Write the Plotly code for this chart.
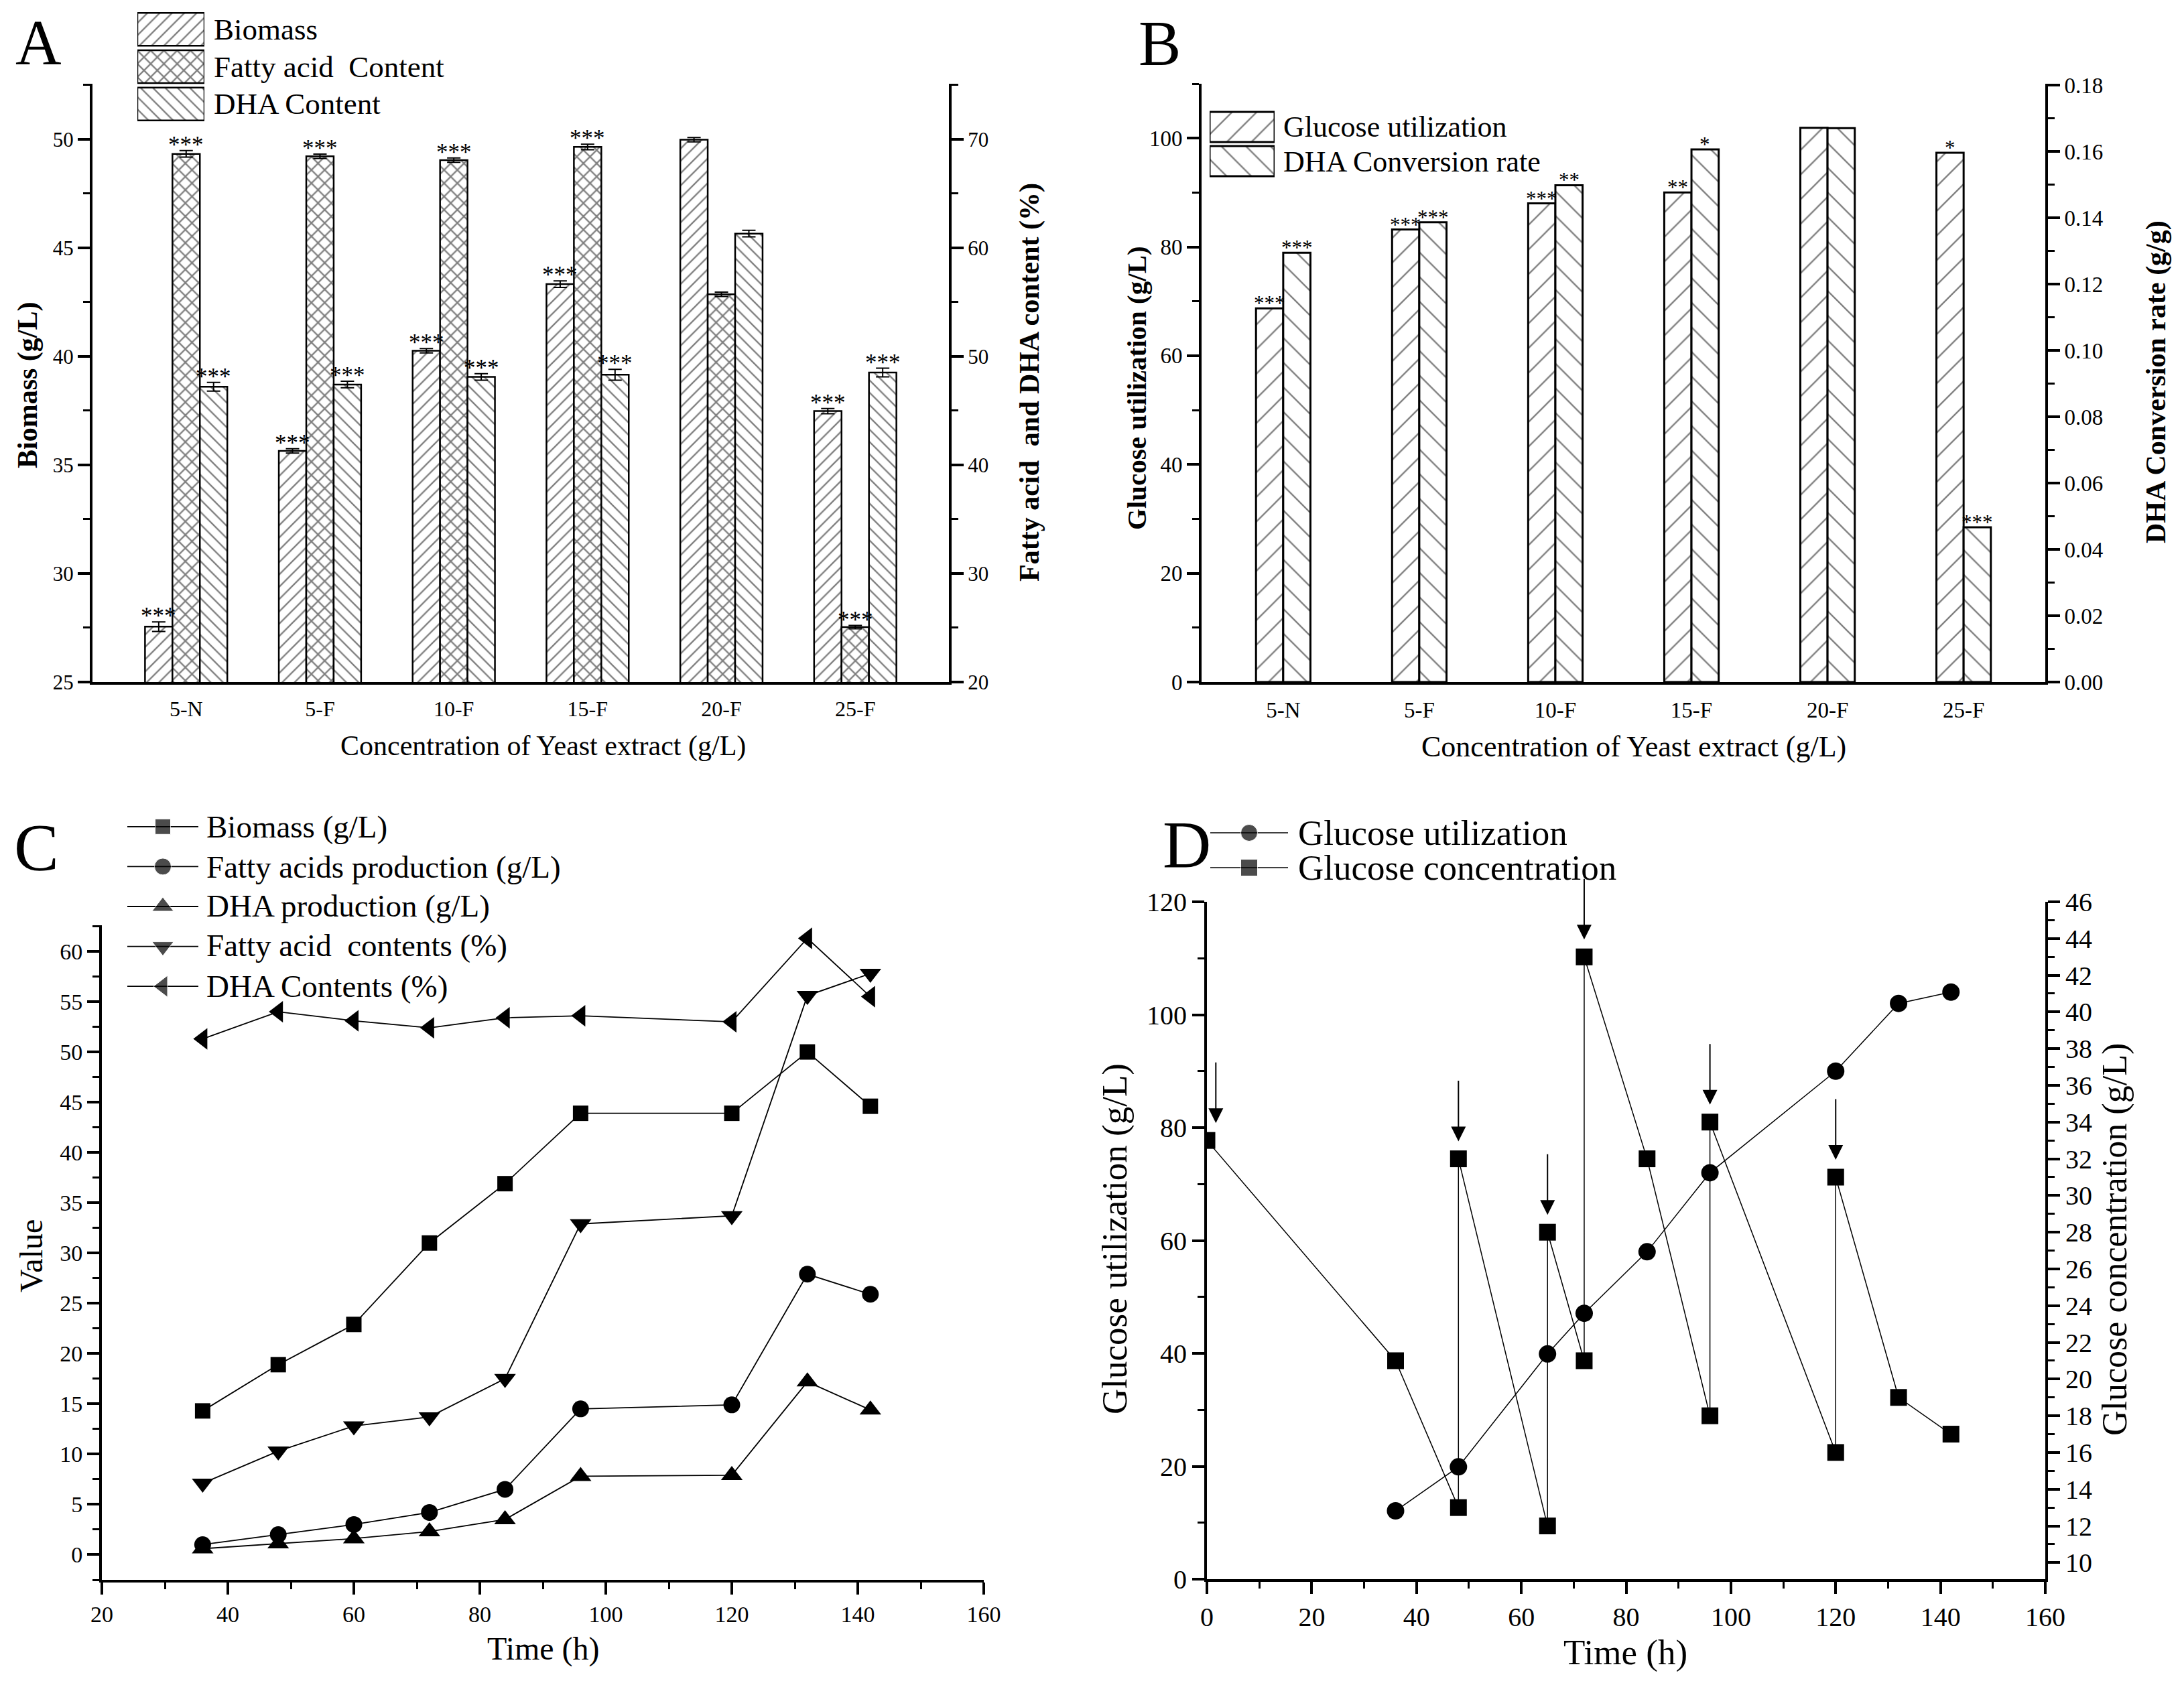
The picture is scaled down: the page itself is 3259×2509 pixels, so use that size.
import plotly.graph_objects as go

# target canvas; the page body adds an 8 px margin around the figure
W0, H0 = 3259, 2509
PAD = 8
W, H = W0 - 2 * PAD, H0 - 2 * PAD
FONT = "Liberation Serif, Times New Roman, serif"


def fx(p):
    return (p - PAD) / W


def fy(p):
    return 1 - (p - PAD) / H


def clamp(v):
    return min(1.0, max(0.0, v))


# ---------------- data ----------------
categories = ["5-N", "5-F", "10-F", "15-F", "20-F", "25-F"]

names_A = ["Biomass", "Fatty acid\u00a0 Content", "DHA Content"]
biomass = [27.55, 35.65, 40.26, 43.33, 49.98, 37.48]
biomass_err = [0.22, 0.10, 0.10, 0.15, 0.10, 0.12]
fa_content = [68.64, 68.42, 68.06, 69.28, 55.71, 25.06]
fa_err = [0.30, 0.20, 0.20, 0.25, 0.20, 0.15]
dha_content = [47.2, 47.4, 48.1, 48.3, 61.3, 48.5]
dha_err = [0.40, 0.30, 0.30, 0.50, 0.30, 0.40]
sig_biomass = ["***", "***", "***", "***", "", "***"]
sig_fa = ["***", "***", "***", "***", "", "***"]
sig_dha = ["***", "***", "***", "***", "", "***"]

names_B = ["Glucose utilization", "DHA Conversion rate"]
glucose_util_B = [68.7, 83.2, 88.0, 90.0, 101.9, 97.3]
dha_conv_B = [0.1295, 0.1387, 0.1499, 0.1607, 0.1671, 0.0467]
sig_glu = ["***", "***", "***", "**", "", "*"]
sig_conv = ["***", "***", "**", "*", "", "***"]

names_C = ["Biomass (g/L)", "Fatty acids production (g/L)", "DHA production (g/L)",
           "Fatty acid\u00a0 contents (%)", "DHA Contents (%)"]
time_C = [36, 48, 60, 72, 84, 96, 120, 132, 142]
biomass_C = [14.3, 18.9, 22.9, 31.0, 36.9, 43.9, 43.9, 50.0, 44.6]
fa_prod_C = [1.0, 2.0, 3.0, 4.2, 6.5, 14.5, 14.9, 27.9, 25.9]
dha_prod_C = [0.6, 1.1, 1.6, 2.3, 3.5, 7.8, 7.9, 17.2, 14.4]
fa_cont_C = [7.1, 10.3, 12.8, 13.7, 17.5, 32.9, 33.7, 55.6, 57.8]
dha_cont_C = [51.3, 54.0, 53.1, 52.4, 53.4, 53.6, 53.0, 61.3, 55.5]

names_D = ["Glucose utilization", "Glucose concentration"]
time_D_util = [36, 48, 65, 72, 84, 96, 120, 132, 142]
glucose_util_D = [12.1, 19.9, 39.9, 47.1, 58.0, 72.0, 90.0, 102.0, 104.0]
time_D_conc = [0, 36, 48, 48, 65, 65, 72, 72, 84, 96, 96, 120, 120, 132, 142]
glucose_conc_D = [33, 21, 13, 32, 12, 28, 21, 43, 32, 18, 34, 16, 31, 19, 17]
feed_times = [0, 48, 65, 72, 96, 120]

STAR_A = 35
STAR_B = 31
fig = go.Figure()

# ---------------- Panel A ----------------
bw_A = 0.205
offs_A = [-1.5 * bw_A, -0.5 * bw_A, 0.5 * bw_A]
pat_A = ["/", "x", "\\"]
psize_A = [13, 14, 13]
psol_A = [0.18, 0.3, 0.18]
seriesA = [
    (biomass, biomass_err, sig_biomass, "y"),
    (fa_content, fa_err, sig_fa, "y2"),
    (dha_content, dha_err, sig_dha, "y2"),
]
for k, ((vals, errs, sig, yax), off) in enumerate(zip(seriesA, offs_A)):
    fig.add_trace(go.Bar(
        x=categories, y=vals, name=names_A[k], xaxis="x", yaxis=yax,
        width=bw_A, offset=off,
        marker=dict(color="white", line=dict(color="black", width=2.5),
                    pattern=dict(shape=pat_A[k], fgcolor="black", bgcolor="white",
                                 size=psize_A[k], solidity=psol_A[k])),
        error_y=dict(type="data", array=errs, color="black", thickness=2, width=10),
    ))
    for i, (v, e, s) in enumerate(zip(vals, errs, sig)):
        if s:
            fig.add_annotation(x=i + off + bw_A / 2, y=v + e, xref="x", yref=yax, text=s,
                               showarrow=False, yanchor="bottom", yshift=-13,
                               font=dict(size=STAR_A, family=FONT, color="black"))

# ---------------- Panel B ----------------
bw_B = 0.2
offs_B = [-bw_B, 0.0]
pat_B = ["/", "\\"]
seriesB = [(glucose_util_B, sig_glu, "y3"), (dha_conv_B, sig_conv, "y4")]
for k, ((vals, sig, yax), off) in enumerate(zip(seriesB, offs_B)):
    fig.add_trace(go.Bar(
        x=categories, y=vals, name=names_B[k], xaxis="x2", yaxis=yax,
        width=bw_B, offset=off,
        marker=dict(color="white", line=dict(color="black", width=3),
                    pattern=dict(shape=pat_B[k], fgcolor="black", bgcolor="white",
                                 size=26, solidity=0.09)),
    ))
    for i, (v, s) in enumerate(zip(vals, sig)):
        if s:
            fig.add_annotation(x=i + off + bw_B / 2, y=v, xref="x2", yref=yax, text=s,
                               showarrow=False, yanchor="bottom", yshift=-12,
                               font=dict(size=STAR_B, family=FONT, color="black"))

# ---------------- Panel C ----------------
sym_C = ["square", "circle", "triangle-up", "triangle-down", "triangle-left"]
size_C = [23, 25, 28, 28, 28]
vals_C = [biomass_C, fa_prod_C, dha_prod_C, fa_cont_C, dha_cont_C]
for k, vals in enumerate(vals_C):
    fig.add_trace(go.Scatter(
        x=time_C, y=vals, name=names_C[k], mode="lines+markers", xaxis="x3", yaxis="y5",
        line=dict(color="black", width=1.8),
        marker=dict(symbol=sym_C[k], size=size_C[k], color="black"),
    ))

# ---------------- Panel D ----------------
fig.add_trace(go.Scatter(
    x=time_D_util, y=glucose_util_D, name=names_D[0], mode="lines+markers",
    xaxis="x4", yaxis="y6", line=dict(color="black", width=1.5),
    marker=dict(symbol="circle", size=26, color="black"),
))
fig.add_trace(go.Scatter(
    x=time_D_conc, y=glucose_conc_D, name=names_D[1], mode="lines+markers",
    xaxis="x4", yaxis="y7", line=dict(color="black", width=1.5),
    marker=dict(symbol="square", size=25, color="black"),
))
for t in feed_times:
    top = max(v for tt, v in zip(time_D_conc, glucose_conc_D) if tt == t)
    fig.add_annotation(x=max(t, 1.7), y=top, xref="x4", yref="y7", showarrow=True,
                       ax=0, ay=-118, standoff=26, arrowhead=2, arrowsize=2.2,
                       arrowwidth=2, arrowcolor="black", text="")

# ---------------- custom legends ----------------
fig.add_trace(go.Bar(
    y=list(range(len(names_A))), x=[1] * len(names_A), orientation="h", width=0.88,
    xaxis="x5", yaxis="y8", hoverinfo="skip",
    marker=dict(color="white", line=dict(color="black", width=2.5),
                pattern=dict(shape=pat_A, fgcolor="black", bgcolor="white",
                             size=psize_A, solidity=psol_A)),
))
legA_top, legA_bot = 16, 183
rowh = (legA_bot - legA_top) / len(names_A)
for j, name in enumerate(names_A):
    fig.add_annotation(x=fx(317), y=fy(legA_top + (j + 0.5) * rowh), xref="paper", yref="paper",
                       text=name, showarrow=False, xanchor="left", yanchor="middle",
                       font=dict(size=45, family=FONT, color="black"))

fig.add_trace(go.Bar(
    y=list(range(len(names_B))), x=[1] * len(names_B), orientation="h", width=0.88,
    xaxis="x6", yaxis="y9", hoverinfo="skip",
    marker=dict(color="white", line=dict(color="black", width=3),
                pattern=dict(shape=pat_B, fgcolor="black", bgcolor="white", size=26, solidity=0.09)),
))
rowsB = [189, 241]
for name, r in zip(names_B, rowsB):
    fig.add_annotation(x=fx(1913), y=fy(r), xref="paper", yref="paper", text=name, showarrow=False,
                       xanchor="left", yanchor="middle", font=dict(size=44, family=FONT, color="black"))

rowsC = [1234, 1294, 1352, 1411, 1472]
for k, name in enumerate(names_C):
    fig.add_trace(go.Scatter(
        x=[0, 0.5, 1], y=[k, k, k], mode="lines+markers", xaxis="x7", yaxis="y10",
        line=dict(color="black", width=1.8), hoverinfo="skip",
        marker=dict(symbol=sym_C[k], size=[0, size_C[k], 0], color="black"),
    ))
    fig.add_annotation(x=fx(306), y=fy(rowsC[k]), xref="paper", yref="paper", text=name,
                       showarrow=False, xanchor="left", yanchor="middle",
                       font=dict(size=47, family=FONT, color="black"))

rowsD = [1243, 1295]
sym_D = ["circle", "square"]
for k, name in enumerate(names_D):
    fig.add_trace(go.Scatter(
        x=[0, 0.5, 1], y=[k, k, k], mode="lines+markers", xaxis="x8", yaxis="y11",
        line=dict(color="black", width=1.5), hoverinfo="skip",
        marker=dict(symbol=sym_D[k], size=[0, 25, 0], color="black"),
    ))
    fig.add_annotation(x=fx(1935), y=fy(rowsD[k]), xref="paper", yref="paper", text=name,
                       showarrow=False, xanchor="left", yanchor="middle",
                       font=dict(size=53, family=FONT, color="black"))


# ---------------- axes ----------------
def ax(fs, **kw):
    base = dict(showline=True, linecolor="black", linewidth=4, showgrid=False, zeroline=False,
                ticks="outside", ticklen=18, tickwidth=4, tickcolor="black", automargin=False,
                tickfont=dict(family=FONT, size=fs, color="black"), mirror=False)
    base.update(kw)
    return base


def minor(d, t0):
    return dict(ticks="outside", ticklen=10, tickwidth=3, tickcolor="black", dtick=d, tick0=t0,
                showgrid=False)


def dx(a, b):
    return [clamp(fx(a)), clamp(fx(b))]


def dy(bottom, top):
    return [clamp(fy(bottom)), clamp(fy(top))]


hidden = dict(visible=False, showgrid=False, zeroline=False, fixedrange=True, automargin=False)

layout = dict(
    width=W, height=H, autosize=False, margin=dict(l=0, r=0, t=0, b=0, pad=0),
    paper_bgcolor="white", plot_bgcolor="rgba(0,0,0,0)", showlegend=False,
    font=dict(family=FONT, color="black"),
    xaxis=ax(32, domain=dx(138, 1416), anchor="y", type="category", range=[-0.7, 5.7],
             ticks="", ticklabelstandoff=9),
    yaxis=ax(31, domain=dy(1018, 125), anchor="x", range=[25, 52.56], tick0=25, dtick=5,
             minor=minor(2.5, 25)),
    yaxis2=ax(31, overlaying="y", side="right", anchor="x", range=[20, 75.1], tick0=20, dtick=10,
              minor=minor(5, 20)),
    xaxis2=ax(33, domain=dx(1793, 3052), anchor="y3", type="category", range=[-0.6, 5.6],
              ticks="", ticklabelstandoff=9),
    yaxis3=ax(33, domain=dy(1018, 125), anchor="x2", range=[0, 110], tick0=0, dtick=20,
              minor=minor(10, 0)),
    yaxis4=ax(33, overlaying="y3", side="right", anchor="x2", range=[0, 0.1805], tick0=0,
              dtick=0.02, tickformat=".2f", minor=minor(0.01, 0)),
    xaxis3=ax(34, domain=dx(152, 1468), anchor="y5", range=[20, 160], tick0=20, dtick=20,
              minor=minor(10, 20)),
    yaxis5=ax(34, domain=dy(2358, 1381), anchor="x3", range=[-2.5, 62.6], tick0=0, dtick=5,
              minor=minor(2.5, 0)),
    xaxis4=ax(40, domain=dx(1801, 3052), anchor="y6", range=[0, 160], tick0=0, dtick=20,
              minor=minor(10, 0)),
    yaxis6=ax(40, domain=dy(2357, 1346), anchor="x4", range=[0, 120], tick0=0, dtick=20,
              minor=minor(10, 0)),
    yaxis7=ax(40, overlaying="y6", side="right", anchor="x4", range=[9.1, 46], tick0=10, dtick=2,
              minor=minor(1, 10)),
    xaxis5=dict(hidden, domain=dx(205, 305), anchor="y8", range=[0, 1]),
    yaxis8=dict(hidden, domain=dy(legA_bot, legA_top), anchor="x5", range=[2.5, -0.5]),
    xaxis6=dict(hidden, domain=dx(1805, 1902), anchor="y9", range=[0, 1]),
    yaxis9=dict(hidden, domain=dy(266, 164), anchor="x6", range=[1.5, -0.5]),
    xaxis7=dict(hidden, domain=dx(190, 296), anchor="y10", range=[0, 1]),
    yaxis10=dict(hidden, domain=dy(1502, 1204), anchor="x7", range=[4.5, -0.5]),
    xaxis8=dict(hidden, domain=dx(1806, 1922), anchor="y11", range=[0, 1]),
    yaxis11=dict(hidden, domain=dy(1321, 1217), anchor="x8", range=[1.5, -0.5]),
)
fig.update_layout(**layout)


# ---------------- titles & panel labels ----------------
def txt(x, y, s, size, angle=0, bold=False, yanchor="middle"):
    fig.add_annotation(x=fx(x), y=fy(y), xref="paper", yref="paper",
                       text=f"<b>{s}</b>" if bold else s, showarrow=False, textangle=angle,
                       xanchor="center", yanchor=yanchor,
                       font=dict(size=size, family=FONT, color="black"))


txt(41, 575, "Biomass (g/L)", 42, -90, True)
txt(1536, 571, "Fatty acid\u00a0 and DHA content (%)", 42, -90, True)
txt(810, 1113, "Concentration of Yeast extract (g/L)", 42)
txt(1696, 579, "Glucose utilization (g/L)", 41, -90, True)
txt(3217, 570, "DHA Conversion rate (g/g)", 42, -90, True)
txt(2438, 1114, "Concentration of Yeast extract (g/L)", 44)
txt(46, 1875, "Value", 48, -90)
txt(811, 2461, "Time (h)", 48)
txt(1663, 1849, "Glucose utilization (g/L)", 53, -90)
txt(3156, 1850, "Glucose concentration (g/L)", 52, -90)
txt(2425, 2466, "Time (h)", 53)

txt(57, PAD + 1, "A", 95, yanchor="top")
txt(1730, PAD + 2, "B", 95, yanchor="top")
txt(54, 1264, "C", 100)
txt(1771, 1260, "D", 100)

fig.write_html("out.html")
